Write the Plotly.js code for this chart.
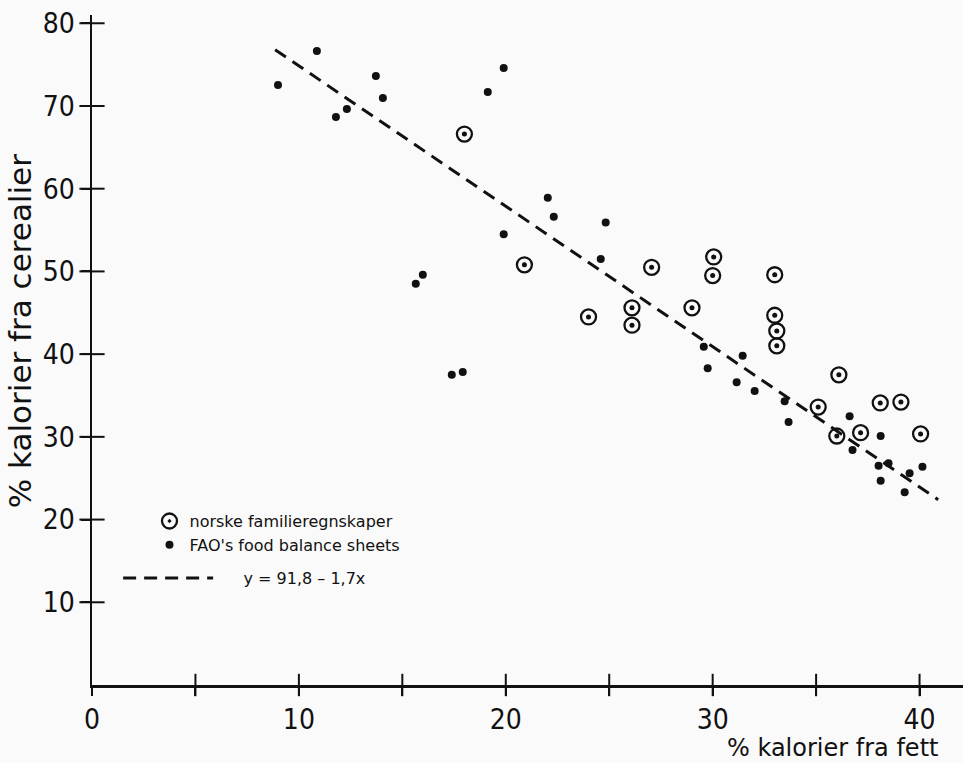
<!DOCTYPE html>
<html>
<head>
<meta charset="utf-8">
<script src="https://cdn.plot.ly/plotly-3.0.1.min.js"></script>
<style>
html,body{margin:0;padding:0;background:#fafafa;}
#chart{width:963px;height:763px;}
</style>
</head>
<body>
<div id="chart"></div>
<script>
// Norske familieregnskaper (ringed points)
const norskeX = [18.0, 20.9, 24.0, 26.1, 26.1, 27.05, 29.0, 30.05, 30.0, 33.0, 33.0, 33.1, 33.1, 36.1, 35.1, 38.1, 39.1, 36.0, 37.15, 40.05];
const norskeY = [66.6, 50.8, 44.5, 45.6, 43.5, 50.5, 45.6, 51.75, 49.5, 49.6, 44.7, 42.8, 41.0, 37.5, 33.6, 34.1, 34.2, 30.1, 30.5, 30.35];

// FAO's food balance sheets (dots)
const faoX = [8.99, 10.87, 11.79, 12.32, 13.72, 14.06, 19.13, 19.9, 15.65, 15.99, 17.39, 17.92, 19.9, 22.03, 22.32, 24.83, 24.59, 29.57, 29.76, 31.45, 31.16, 32.03, 33.48, 33.67, 36.62, 36.76, 38.12, 38.02, 38.5, 38.12, 39.28, 39.52, 40.14];
const faoY = [72.55, 76.66, 68.68, 69.65, 73.64, 70.98, 71.7, 74.6, 48.5, 49.6, 37.5, 37.85, 54.5, 58.9, 56.6, 55.9, 51.5, 40.9, 38.3, 39.8, 36.6, 35.55, 34.3, 31.8, 32.5, 28.4, 30.1, 26.5, 26.8, 24.7, 23.3, 25.6, 26.4];

// Regression line endpoints as drawn
const lineX = [8.85, 40.9];
const lineY = [76.8, 22.4];

// Ticks
const xTickVals = [0, 5, 10, 15, 20, 25, 30, 35, 40];
const xTickText = ['0', '', '10', '', '20', '', '30', '', '40'];
const yTickVals = [10, 20, 30, 40, 50, 60, 70, 80];
const yTickText = ['10', '20', '30', '40', '50', '60', '70', '80'];

const ink = '#111111';
const tickFont = {family: '"DejaVu Sans Condensed", "Liberation Sans Narrow", "DejaVu Sans", sans-serif', size: 28, color: ink};
const NB = '\u00a0';

const xCrossVals = xTickVals.slice(1);
const traces = [
  {
    x: lineX, y: lineY, mode: 'lines', name: NB.repeat(5) + 'y = 91,8 – 1,7x',
    line: {color: ink, width: 3, dash: '13px,8px'},
    legend: 'legend2', hoverinfo: 'skip'
  },
  {
    x: norskeX, y: norskeY, mode: 'markers', name: 'norske familieregnskaper',
    marker: {symbol: 'circle-open-dot', size: 15, color: ink, line: {color: ink, width: 2.3}},
    legend: 'legend', legendgroup: 'a'
  },
  {
    x: norskeX, y: norskeY, mode: 'markers', showlegend: false, hoverinfo: 'skip',
    marker: {symbol: 'circle', size: 5, color: ink}
  },
  {
    x: faoX, y: faoY, mode: 'markers', name: "FAO's food balance sheets",
    marker: {symbol: 'circle', size: 8, color: ink},
    legend: 'legend', legendgroup: 'b'
  },
  // cross-shaped tick marks straddling the axes
  {
    x: xCrossVals, y: xCrossVals.map(() => 0), mode: 'markers', showlegend: false, hoverinfo: 'skip', cliponaxis: false,
    marker: {symbol: 'line-ns-open', size: 16, color: ink, line: {color: ink, width: 2}}
  },
  {
    x: yTickVals.map(() => 0), y: yTickVals, mode: 'markers', showlegend: false, hoverinfo: 'skip', cliponaxis: false,
    marker: {symbol: 'line-ew-open', size: 18, color: ink, line: {color: ink, width: 2}}
  }
];

const xRange = [0, 42.1];
const yRange = [0, 81];

const layout = {
  width: 963, height: 763,
  margin: {l: 92, r: 0, t: 15, b: 78, pad: 0},
  paper_bgcolor: '#fafafa', plot_bgcolor: '#fafafa',
  font: {family: '"DejaVu Sans", sans-serif', color: ink},
  showlegend: true,
  xaxis: {
    range: xRange, showgrid: false, zeroline: false,
    showline: true, linecolor: ink, linewidth: 2.5,
    ticks: 'outside', ticklen: 8, tickwidth: 2, tickcolor: ink,
    tickmode: 'array', tickvals: xTickVals, ticktext: xTickText,
    tickfont: tickFont
  },
  yaxis: {
    range: yRange, showgrid: false, zeroline: false,
    showline: true, linecolor: ink, linewidth: 2.5,
    ticks: 'outside', ticklen: 9, tickwidth: 2, tickcolor: ink,
    tickmode: 'array', tickvals: yTickVals, ticktext: yTickText,
    tickfont: tickFont
  },
  legend: {
    x: 0.066, y: 0.27, xanchor: 'left', yanchor: 'top',
    bgcolor: 'rgba(0,0,0,0)', borderwidth: 0,
    font: {family: '"DejaVu Sans", sans-serif', size: 16, color: ink},
    tracegroupgap: 4, traceorder: 'normal'
  },
  legend2: {
    x: 0.03, y: 0.185, xanchor: 'left', yanchor: 'top',
    bgcolor: 'rgba(0,0,0,0)', borderwidth: 0, itemwidth: 90,
    font: {family: '"DejaVu Sans", sans-serif', size: 16, color: ink}
  },
  annotations: [
    {
      text: '% kalorier fra cerealier', xref: 'paper', yref: 'paper', textangle: -90,
      x: -0.0827, y: 0.528, xanchor: 'center', yanchor: 'middle', showarrow: false,
      font: {family: '"DejaVu Sans", sans-serif', size: 31, color: ink}
    },
    {
      text: '% kalorier fra fett', xref: 'paper', yref: 'paper',
      x: 0.974, y: -0.094, xanchor: 'right', yanchor: 'middle', showarrow: false,
      font: {family: '"DejaVu Sans", sans-serif', size: 24, color: ink}
    }
  ]
};

Plotly.newPlot('chart', traces, layout, {displayModeBar: false, staticPlot: true});
</script>
</body>
</html>
